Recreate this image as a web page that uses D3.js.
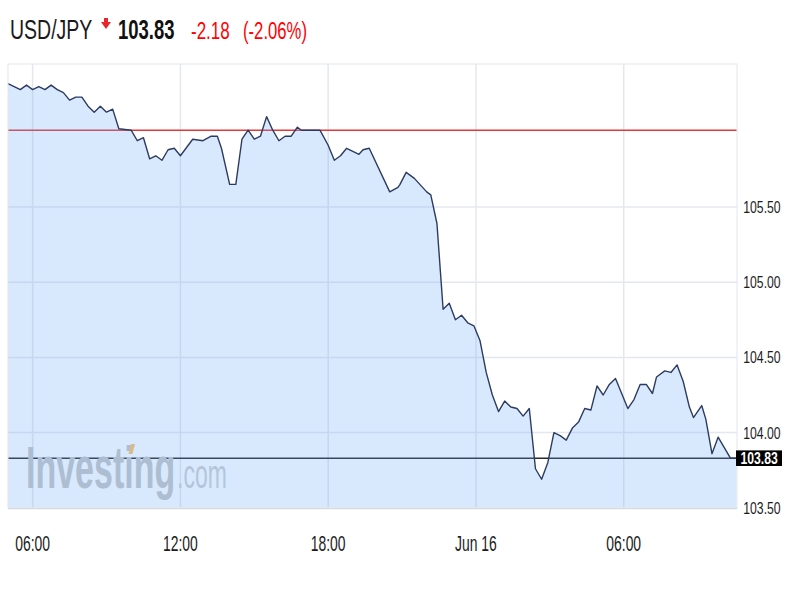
<!DOCTYPE html>
<html><head><meta charset="utf-8">
<script src="https://cdn.jsdelivr.net/npm/d3@7/dist/d3.min.js"></script>
<style>body{margin:0;background:#fff}svg{display:block}</style>
</head><body><svg id="c" width="800" height="600"></svg>
<script>
// ---- data ----
const symbol = "USD/JPY";
const lastPrice = 103.83;
const change = -2.18;
const changePct = -2.06;
const prevClose = 106.01;

const times = [
"2016-06-15 05:00","2016-06-15 05:30","2016-06-15 05:45","2016-06-15 06:00","2016-06-15 06:15","2016-06-15 06:30","2016-06-15 06:45","2016-06-15 07:00","2016-06-15 07:15","2016-06-15 07:30",
"2016-06-15 07:45","2016-06-15 08:00","2016-06-15 08:15","2016-06-15 08:30","2016-06-15 08:45","2016-06-15 09:00","2016-06-15 09:15","2016-06-15 09:30","2016-06-15 10:00","2016-06-15 10:15",
"2016-06-15 10:30","2016-06-15 10:45","2016-06-15 11:00","2016-06-15 11:15","2016-06-15 11:30","2016-06-15 11:45","2016-06-15 12:00","2016-06-15 12:30","2016-06-15 12:55","2016-06-15 13:15",
"2016-06-15 13:30","2016-06-15 13:40","2016-06-15 14:00","2016-06-15 14:15","2016-06-15 14:30","2016-06-15 14:45","2016-06-15 15:00","2016-06-15 15:15","2016-06-15 15:30","2016-06-15 15:45",
"2016-06-15 16:00","2016-06-15 16:15","2016-06-15 16:30","2016-06-15 16:45","2016-06-15 16:55","2016-06-15 17:40","2016-06-15 18:00","2016-06-15 18:15","2016-06-15 18:30","2016-06-15 18:45",
"2016-06-15 19:00","2016-06-15 19:15","2016-06-15 19:25","2016-06-15 19:40","2016-06-15 20:30","2016-06-15 20:50","2016-06-15 20:55","2016-06-15 21:10","2016-06-15 21:30","2016-06-15 21:40",
"2016-06-15 22:00","2016-06-15 22:10","2016-06-15 22:25","2016-06-15 22:40","2016-06-15 22:55","2016-06-15 23:10","2016-06-15 23:25","2016-06-15 23:40","2016-06-15 23:55","2016-06-16 00:10",
"2016-06-16 00:25","2016-06-16 00:40","2016-06-16 00:55","2016-06-16 01:10","2016-06-16 01:25","2016-06-16 01:40","2016-06-16 01:55","2016-06-16 02:10","2016-06-16 02:25","2016-06-16 02:40",
"2016-06-16 02:55","2016-06-16 03:10","2016-06-16 03:25","2016-06-16 03:40","2016-06-16 03:55","2016-06-16 04:10","2016-06-16 04:25","2016-06-16 04:40","2016-06-16 04:55","2016-06-16 05:10",
"2016-06-16 05:25","2016-06-16 05:40","2016-06-16 06:10","2016-06-16 06:25","2016-06-16 06:40","2016-06-16 06:55","2016-06-16 07:10","2016-06-16 07:20","2016-06-16 07:40","2016-06-16 07:55",
"2016-06-16 08:10","2016-06-16 08:25","2016-06-16 08:40","2016-06-16 08:50","2016-06-16 09:10","2016-06-16 09:20","2016-06-16 09:35","2016-06-16 09:50","2016-06-16 10:05","2016-06-16 10:20",
"2016-06-16 10:35"
];
const prices = [
106.32,106.28,106.31,106.28,106.30,106.28,106.31,106.28,106.26,106.21,
106.23,106.23,106.17,106.13,106.17,106.13,106.15,106.02,106.01,105.94,
105.96,105.82,105.84,105.81,105.88,105.89,105.84,105.95,105.94,105.97,
105.97,105.89,105.65,105.65,105.95,106.01,105.95,105.97,106.10,106.01,
105.94,105.97,105.97,106.03,106.01,106.01,105.91,105.81,105.84,105.89,
105.87,105.85,105.88,105.89,105.60,105.63,105.65,105.73,105.69,105.66,
105.60,105.58,105.39,104.82,104.86,104.75,104.78,104.73,104.71,104.61,
104.40,104.25,104.14,104.21,104.17,104.16,104.11,104.16,103.76,103.69,
103.80,104.00,103.98,103.95,104.03,104.07,104.16,104.15,104.31,104.25,
104.32,104.36,104.16,104.22,104.32,104.32,104.26,104.37,104.41,104.40,
104.45,104.34,104.17,104.10,104.18,104.09,103.86,103.97,103.90,103.83,
103.83
];
const yTicks = [103.5, 104.0, 104.5, 105.0, 105.5];
const yTickLabels = ["103.50","104.00","104.50","105.00","105.50"];
const xTicks = ["2016-06-15 06:00","2016-06-15 12:00","2016-06-15 18:00","2016-06-16 00:00","2016-06-16 06:00"];
const xTickLabels = ["06:00","12:00","18:00","Jun 16","06:00"];
const xDomain = ["2016-06-15 05:00","2016-06-16 10:36"];
const yDomain = [103.5, 106.45];

// ---- chart ----
const parse = d3.timeParse("%Y-%m-%d %H:%M");
const data = times.map((t,i)=>({t:parse(t), v:prices[i]}));
const L = 8, R = 737, T = 64, B = 507.85;
const x = d3.scaleTime().domain(xDomain.map(parse)).range([L, R]);
const y = d3.scaleLinear().domain(yDomain).range([B, T]);
const svg = d3.select("#c");
const FONT = "'Liberation Sans', Arial, Helvetica, sans-serif";
const fmt = v => v.toFixed(2);

function stext(g, px, py, str, size, sy, o={}) {
  return g.append("text")
    .attr("transform", `translate(${px},${py}) scale(1,${sy})`)
    .attr("font-family", FONT).attr("font-size", size)
    .attr("fill", o.fill || "#222")
    .attr("font-weight", o.weight || "normal")
    .attr("text-anchor", o.anchor || "start")
    .text(str);
}

// header
const hdr = svg.append("g");
stext(hdr, 10, 39.3, symbol, 19.5, 1.45, {fill:"#1a1a1a"});
hdr.append("path")
  .attr("d","M104,18 L108,18 L108,22 L111,22 L106,29 L101,22 L104,22 Z")
  .attr("fill","#e8262b");
stext(hdr, 118, 39.3, fmt(lastPrice), 18.5, 1.45, {fill:"#111", weight:"bold"});
stext(hdr, 191, 39.3, fmt(change), 17, 1.45, {fill:"#ff0000"});
stext(hdr, 243, 39.3, "(" + fmt(changePct) + "%)", 16.7, 1.45, {fill:"#ff0000"});

// grid
const grid = svg.append("g");
grid.selectAll("line.h").data(yTicks.slice(1)).join("line")
  .attr("x1", L).attr("x2", R).attr("y1", d=>y(d)).attr("y2", d=>y(d))
  .attr("stroke", "#e4e8ee").attr("stroke-width", 1.5);
grid.selectAll("line.v").data(xTicks.map(parse)).join("line")
  .attr("x1", d=>x(d)).attr("x2", d=>x(d)).attr("y1", T).attr("y2", B)
  .attr("stroke", "#e4e8ee").attr("stroke-width", 1.5);

// previous close line
svg.append("line").attr("x1", L).attr("x2", R)
  .attr("y1", y(prevClose)).attr("y2", y(prevClose))
  .attr("stroke", "#e23a3a").attr("stroke-width", 1.6);
// current price line
svg.append("line").attr("x1", L).attr("x2", R)
  .attr("y1", y(lastPrice)).attr("y2", y(lastPrice))
  .attr("stroke", "#2a2a2a").attr("stroke-width", 1.5);

// watermark
const wm = svg.append("g");
stext(wm, 26, 488.3, "Investing", 34, 1.75, {fill:"#c6c6c6", weight:"bold"});
stext(wm, 177, 488.3, ".com", 23, 1.8, {fill:"#cfcfcf"});

// area (semi-transparent, over lines)
const area = d3.area().x(d=>x(d.t)).y0(y(yDomain[0])).y1(d=>y(d.v));
svg.append("path").datum(data).attr("d", area)
  .attr("fill", "rgb(103,167,247)").attr("fill-opacity", 0.25);

// logo accent
svg.append("path").attr("d","M128.5,454 L131,444 L135,444 L132.5,454 Z").attr("fill","#d8bb8c");

// price line
const line = d3.line().x(d=>x(d.t)).y(d=>y(d.v));
svg.append("path").datum(data).attr("d", line)
  .attr("fill","none").attr("stroke","#2d3b5f").attr("stroke-width",1.4)
  .attr("stroke-linejoin","round");

// plot border
svg.append("rect").attr("x", L).attr("y", T).attr("width", R-L).attr("height", B-T)
  .attr("fill","none").attr("stroke","#e2e6ec").attr("stroke-width",1);
svg.append("line").attr("x1", L).attr("x2", R).attr("y1", B+0.8).attr("y2", B+0.8)
  .attr("stroke","#d5d9df").attr("stroke-width",1.2);

// right axis labels
const ya = svg.append("g");
yTicks.forEach((d,i)=>{
  stext(ya, 743.3, y(d)+5.9, yTickLabels[i], 12.2, 1.35, {fill:"#1c1c1c"});
});
// current price tag
const yl = y(lastPrice);
svg.append("rect").attr("x", 736).attr("y", yl-7.8).attr("width", 46).attr("height", 15.6).attr("fill","#000");
stext(svg, 740.5, yl+5.5, fmt(lastPrice), 12.2, 1.3, {fill:"#fff", weight:"bold"});

// bottom axis labels
const xa = svg.append("g");
xTicks.forEach((d,i)=>{
  stext(xa, x(parse(d)), 551, xTickLabels[i], 13.9, 1.65, {fill:"#1c1c1c", anchor:"middle"});
});
</script>
</body></html>
